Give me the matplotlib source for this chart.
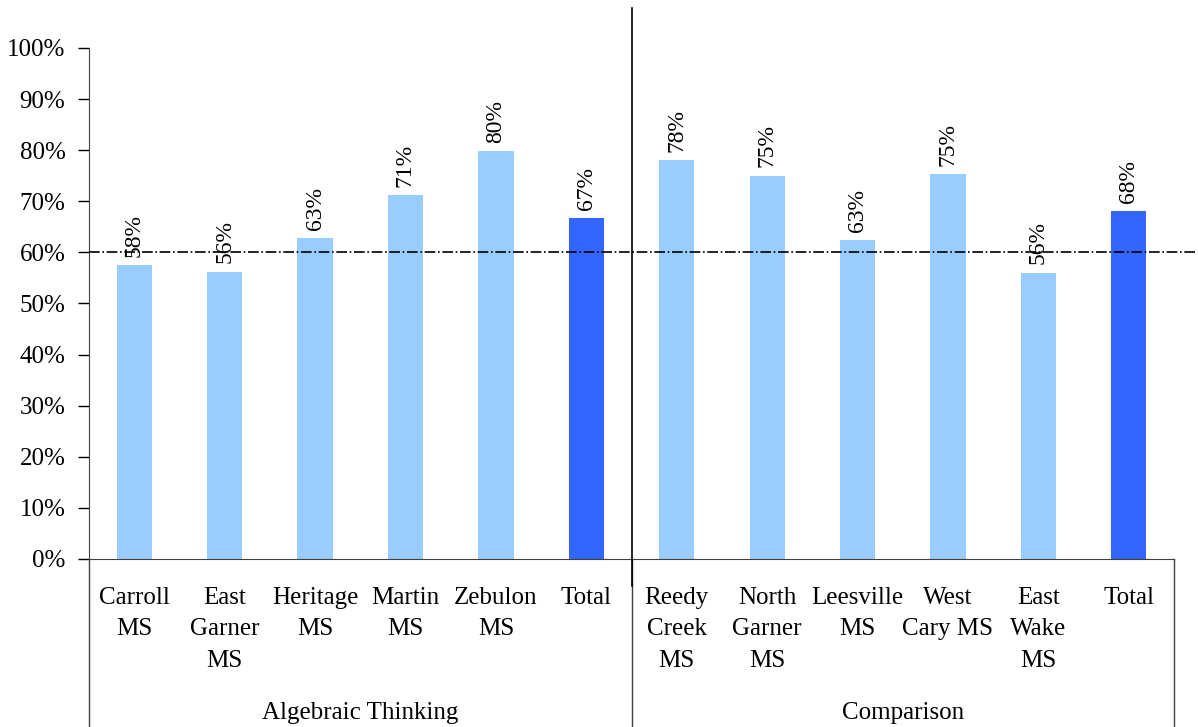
import matplotlib
matplotlib.use('Agg')
import matplotlib.pyplot as plt
import numpy as np

# chart data
schools = ['Carroll\nMS', 'East\nGarner\nMS', 'Heritage\nMS', 'Martin\nMS', 'Zebulon\nMS', 'Total',
           'Reedy\nCreek\nMS', 'North\nGarner\nMS', 'Leesville\nMS', 'West\nCary MS', 'East\nWake\nMS', 'Total']
values = [0.575, 0.562, 0.628, 0.712, 0.798, 0.667,
          0.781, 0.750, 0.624, 0.753, 0.560, 0.681]
labels = ['58%', '56%', '63%', '71%', '80%', '67%',
          '78%', '75%', '63%', '75%', '56%', '68%']
groups = ['Algebraic Thinking', 'Comparison']
target = 0.60

plt.rcParams['font.family'] = ['Liberation Serif', 'DejaVu Serif']

fig = plt.figure(figsize=(11.98, 7.27), dpi=100)
ax = fig.add_axes([0.0743, 0.2311, 0.9057, 0.7029])

x = np.arange(len(values))
colors = ['#3366FF' if s == 'Total' else '#99CCFF' for s in schools]
ax.bar(x, values, width=0.39, color=colors, zorder=2)

# value labels, rotated above each bar
for xi, v, lab in zip(x, values, labels):
    ax.annotate(lab, (xi, v), xytext=(0, 6), textcoords='offset points',
                rotation=90, ha='center', va='bottom', fontsize=17)

ax.set_xlim(-0.5, len(values) - 0.5)
ax.set_ylim(0, 1)
ax.set_yticks(np.arange(0, 1.01, 0.1))
ax.set_yticklabels(['%d%%' % round(t * 100) for t in np.arange(0, 1.01, 0.1)], fontsize=18)
ax.tick_params(axis='y', direction='out', length=8, width=1, pad=9)

ax.set_xticks(x)
ax.set_xticklabels(schools, fontsize=18, linespacing=1.57)
ax.tick_params(axis='x', length=0, pad=20)

for side in ['top', 'right']:
    ax.spines[side].set_visible(False)
ax.spines['bottom'].set_color('#404040')
ax.spines['left'].set_color('#404040')

# target line
ax.axhline(target, xmin=0, xmax=1.02, color='black', linestyle='-.', lw=1.2,
           clip_on=False, zorder=3)

# separator between the groups, through the chart
ax.plot([5.5, 5.5], [-0.052, 1.078], color='black', lw=1.2, clip_on=False, zorder=3)

# group boxes under the categories
n = len(values)
for xb in [-0.5, 5.5, n - 0.5]:
    ax.plot([xb, xb], [0, -0.4], color='#404040', lw=1, clip_on=False)

ax.text(2.5, -0.302, groups[0], ha='center', va='center', fontsize=18)
ax.text(8.5, -0.302, groups[1], ha='center', va='center', fontsize=18)

fig.savefig('out.png', dpi=100)
